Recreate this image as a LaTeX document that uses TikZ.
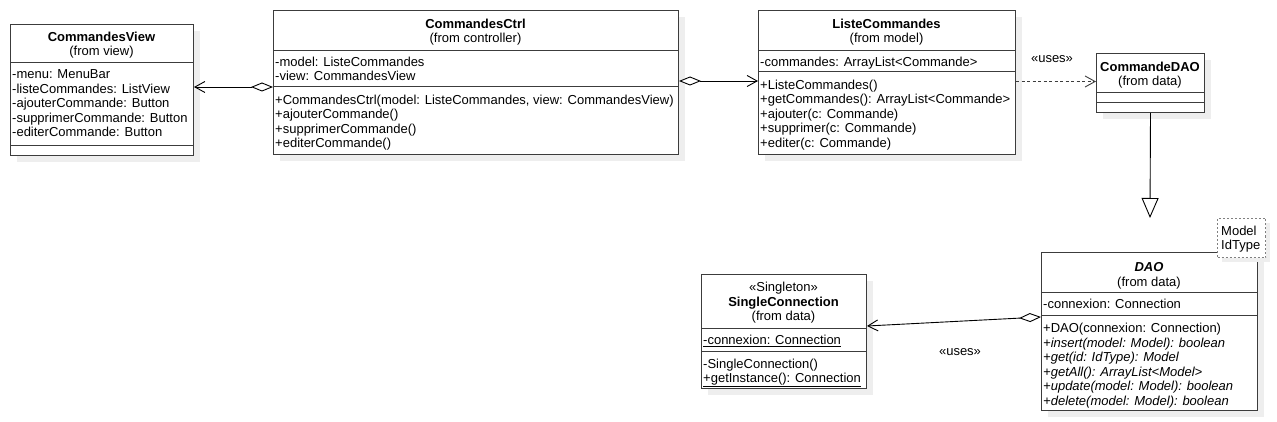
\documentclass[tikz,border=0pt]{standalone}
\usepackage{fontspec}
\setmainfont{Liberation Sans}
\usetikzlibrary{arrows.meta}
\definecolor{shad}{RGB}{238,238,238}
\definecolor{brd}{RGB}{60,60,60}
\newcommand\lcell[1]{\begin{tabular}[t]{@{}l@{}}#1\end{tabular}}
\newcommand\ccell[1]{\begin{tabular}[t]{@{}c@{}}#1\end{tabular}}
\tikzset{
  shadowbox/.style={fill=shad,draw=none},
  cls/.style={draw=brd,line width=1pt,fill=white,minimum width=0pt,minimum height=0pt,inner sep=0pt,anchor=north west},
  divl/.style={draw=brd,line width=1pt},
  txt/.style={inner sep=0pt,font=\fontsize{13}{14.5}\selectfont},
  conn/.style={draw=black,line width=0.9pt},
  agg/.style={conn,{Diamond[fill=white,length=22pt,width=9pt]}-{Straight Barb[length=10pt,width=11pt]}},
  dep/.style={draw=brd,line width=0.9pt,dash pattern=on 3pt off 2.5pt,-{Straight Barb[length=10pt,width=11pt]}},
  gen/.style={conn,-{Triangle[open,length=20pt,width=17pt]}}
}
\begin{document}
\begin{tikzpicture}[x=1pt,y=-1pt]
\useasboundingbox (0,0) rectangle (1277,422);

% ---------- CommandesView
\fill[shadowbox] (17,31) rectangle (200,162);
\node[cls,minimum width=183pt,minimum height=131pt] (view) at (10,24) {};
\draw[divl] (10,63) -- (193,63);
\draw[divl] (10,146) -- (193,146);
\node[txt,anchor=base] (viewt) at (101.5,41.5) {\ccell{\bfseries CommandesView\\(from view)}};
\node[txt,anchor=base west] (viewa) at (12,79) {\lcell{-menu: MenuBar\\-listeCommandes: ListView\\-ajouterCommande: Button\\-supprimerCommande: Button\\-editerCommande: Button}};

% ---------- CommandesCtrl
\fill[shadowbox] (280,17) rectangle (685,161);
\node[cls,minimum width=405pt,minimum height=144pt] (ctrl) at (273,10) {};
\draw[divl] (273,51) -- (678,51);
\draw[divl] (273,87) -- (678,87);
\node[txt,anchor=base] (ctrlt) at (475.5,28.5) {\ccell{\bfseries CommandesCtrl\\(from controller)}};
\node[txt,anchor=base west] (ctrla) at (275,66.5) {\lcell{-model: ListeCommandes\\-view: CommandesView}};
\node[txt,anchor=base west] (ctrlm) at (275,104.5) {\lcell{+CommandesCtrl(model: ListeCommandes, view: CommandesView)\\+ajouterCommande()\\+supprimerCommande()\\+editerCommande()}};

% ---------- ListeCommandes
\fill[shadowbox] (765,17) rectangle (1022,161);
\node[cls,minimum width=257pt,minimum height=144pt] (liste) at (758,10) {};
\draw[divl] (758,51) -- (1015,51);
\draw[divl] (758,72) -- (1015,72);
\node[txt,anchor=base] (listet) at (886.5,28.5) {\ccell{\bfseries ListeCommandes\\(from model)}};
\node[txt,anchor=base west] (listea) at (760,66.5) {\lcell{-commandes: ArrayList<Commande>}};
\node[txt,anchor=base west] (listem) at (760,89.5) {\lcell{+ListeCommandes()\\+getCommandes(): ArrayList<Commande>\\+ajouter(c: Commande)\\+supprimer(c: Commande)\\+editer(c: Commande)}};

% ---------- CommandeDAO
\fill[shadowbox] (1103,60) rectangle (1211,119);
\node[cls,minimum width=108pt,minimum height=59pt] (cdao) at (1096,53) {};
\draw[divl] (1096,93) -- (1204,93);
\draw[divl] (1096,103) -- (1204,103);
\node[txt,anchor=base] (cdaot) at (1150,71.5) {\ccell{\bfseries CommandeDAO\\(from data)}};

% ---------- SingleConnection
\fill[shadowbox] (708,281) rectangle (873,395);
\node[cls,minimum width=165pt,minimum height=114pt] (single) at (701,274) {};
\draw[divl] (701,328) -- (866,328);
\draw[divl] (701,351) -- (866,351);
\node[txt,anchor=base] (singlet) at (783.5,291.5) {\ccell{«Singleton»\\\bfseries SingleConnection\\(from data)}};
\node[txt,anchor=base west] (singlea) at (703,344.5) {\lcell{\underline{-connexion: Connection}}};
\node[txt,anchor=base west] (singlem) at (703,368) {\lcell{-SingleConnection()\\\underline{+getInstance(): Connection}}};

% ---------- DAO
\fill[shadowbox] (1048,259) rectangle (1264,417);
\node[cls,minimum width=216pt,minimum height=158pt] (dao) at (1041,252) {};
\draw[divl] (1041,292) -- (1257,292);
\draw[divl] (1041,315) -- (1257,315);
\node[txt,anchor=base] (daot) at (1149,271.5) {\ccell{\bfseries\itshape DAO\\(from data)}};
\node[txt,anchor=base west] (daoa) at (1043,308) {\lcell{-connexion: Connection}};
\node[txt,anchor=base west] (daom) at (1043,332.5) {\lcell{+DAO(connexion: Connection)\\\itshape +insert(model: Model): boolean\\\itshape +get(id: IdType): Model\\\itshape +getAll(): ArrayList<Model>\\\itshape +update(model: Model): boolean\\\itshape +delete(model: Model): boolean}};

% template parameters
\fill[shadowbox] (1222,223) rectangle (1270,262);
\node[draw=gray,dash pattern=on 2pt off 2pt,line width=1pt,fill=white,minimum width=48pt,minimum height=39pt,inner sep=0pt,anchor=north west] (tpl) at (1217,218) {};
\node[txt,anchor=base west] (tplt) at (1221,235.5) {\lcell{Model\\IdType}};

% ---------- connectors
\draw[agg] (ctrl.west |- 0,87) -- (view.east |- 0,87);
\draw[agg] (ctrl.east |- 0,81) -- (liste.west |- 0,81);
\draw[dep] (liste.east |- 0,81.5) -- (cdao.west |- 0,81.5);
\node[txt] (uses1) at (1052,59) {«uses»};
\coordinate (genend) at (1150,218);
\draw[gen] (cdao.south) -- (genend);
\draw[agg] (dao.west |- 0,317) -- (single.east |- 0,326);
\node[txt] (uses2) at (960,352) {«uses»};
\end{tikzpicture}
\end{document}
